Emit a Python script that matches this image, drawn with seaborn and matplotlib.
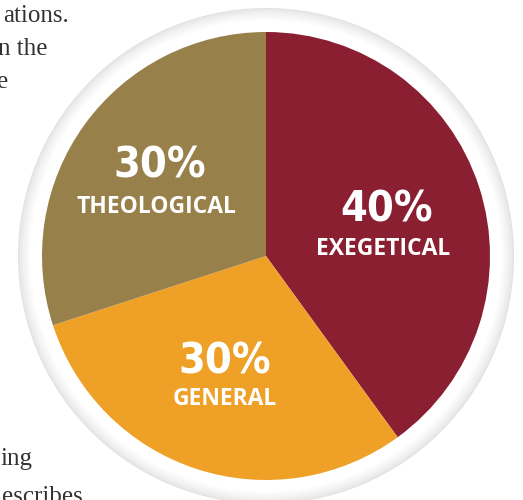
"""Share of course categories - pie chart with soft ring"""

import matplotlib
matplotlib.use("Agg")
import matplotlib.pyplot as plt
import numpy as np
import seaborn as sns

# data
categories = ['EXEGETICAL', 'GENERAL', 'THEOLOGICAL']
shares = [40, 30, 30]
slice_colors = ['#8a1f32', '#eea126', '#98804b']

# page text cut off around the chart
body_top = ['ations.', 'n the', 'e']
body_bottom = ['ing', 'escribes']

sns.set_theme(style='white')
plt.rcParams['font.family'] = ['Open Sans', 'DejaVu Sans']

W, H = 523, 500
fig = plt.figure(figsize=(W / 100, H / 100), dpi=100)
ax = fig.add_axes([0, 0, 1, 1])

# pie centre / radius in pixel units (y measured upward)
cx, cy, rad = 266, 244, 224

# soft grey ring around the pie
ring_r = np.linspace(248, 226, 40)
for i, r in enumerate(ring_r):
    t = i / (len(ring_r) - 1)
    g = 0.885 + 0.115 * min(1.0, t * 1.8) ** 0.7
    ax.add_patch(plt.Circle((cx, cy), r, color=(g, g, g), lw=0, zorder=0))

palette = sns.color_palette(slice_colors)
ax.pie(shares, colors=palette, startangle=90, counterclock=False,
       center=(cx, cy), radius=rad, wedgeprops=dict(linewidth=0))

# label placement (offset from pie centre): percent baseline, name baseline
label_xy = {
    'EXEGETICAL': ((121, 34), (117, 1)),
    'GENERAL': ((-41, -117), (-41, -149)),
    'THEOLOGICAL': ((-106, 78), (-110, 43)),
}
for cat, val in zip(categories, shares):
    (px, py), (nx, ny) = label_xy[cat]
    ax.text(cx + px, cy + py, f'{val}%', ha='center', va='baseline',
            color='white', fontsize=31, fontweight='bold',
            family='DejaVu Sans', fontstretch='condensed', zorder=5)
    ax.text(cx + nx, cy + ny, cat, ha='center', va='baseline',
            color='white', fontsize=16.5, fontweight='bold', zorder=5)

serif = dict(family=['Liberation Serif', 'DejaVu Serif'], fontsize=18,
             color='#333333', ha='right', va='baseline')
for s, (x, y) in zip(body_top, [(69, 478), (48, 445), (8, 412)]):
    ax.text(x, y, s, **serif)
for s, (x, y) in zip(body_bottom, [(32, 35), (83, -3)]):
    ax.text(x, y, s, **serif)

ax.set_xlim(0, W)
ax.set_ylim(0, H)
ax.set_aspect('auto')
ax.axis('off')

plt.savefig('out.png', dpi=100)
plt.close()
